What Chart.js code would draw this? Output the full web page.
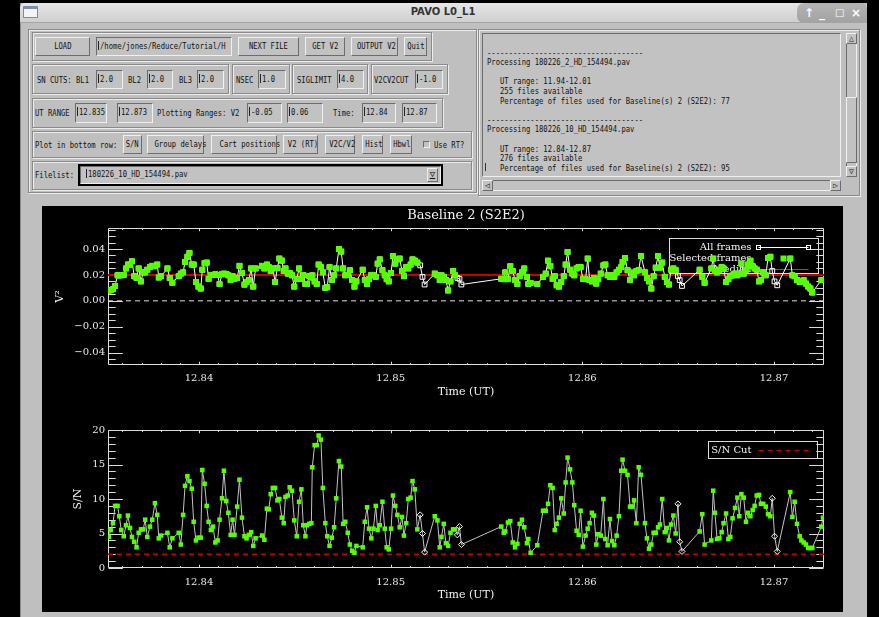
<!DOCTYPE html>
<html>
<head>
<meta charset="utf-8">
<title>PAVO L0_L1</title>
<script src="https://cdn.jsdelivr.net/npm/chart.js@4.4.1/dist/chart.umd.min.js"></script>
<style>
body{margin:0;background:#000;width:879px;height:617px;overflow:hidden;position:relative;
  font-family:"DejaVu Sans Mono",monospace;font-size:9px;color:#111}
.a{position:absolute;box-sizing:border-box}
.t{display:inline-block;transform:scaleX(.8);transform-origin:0 50%;white-space:pre}
.btn .t{transform-origin:50% 50%}
.win{left:20px;top:3px;width:847px;height:614px;background:#bfbfbf;border-left:1px solid #8c8c8c}
.bar{left:20px;top:3px;width:847px;height:20px;background:linear-gradient(#e6e6e6,#cfcfcf);border-radius:5px 5px 0 0;border-bottom:1px solid #a6a6a6}
.ctl{left:797px;top:3px;width:70px;height:20px;background:linear-gradient(#b4b4b4,#a2a2a2);border-radius:7px 5px 0 7px;color:#fff;font:bold 12px "DejaVu Sans",sans-serif}
.ctl span{position:absolute;top:3px}
.grp{border:1px solid #8a8a8a;box-shadow:inset 1px 1px 0 #ececec,1px 1px 0 #ececec}
.btn{background:#c2c2c2;border:1px solid;border-color:#f0f0f0 #6c6c6c #6c6c6c #f0f0f0;text-align:center;line-height:17px;white-space:nowrap}
.fld{background:#c2c2c2;border:1px solid;border-color:#6c6c6c #f0f0f0 #f0f0f0 #6c6c6c;padding-left:1px;line-height:17px;white-space:nowrap;overflow:hidden}
.lbl{white-space:nowrap;line-height:12px}
.cur{display:inline-block;width:2px;height:9px;border-left:1px solid #222;vertical-align:-1px;box-sizing:border-box}
.log{line-height:9.6px;white-space:pre;padding:5px 0 0 4px;overflow:hidden}
.plot{left:42px;top:206px;width:801px;height:406px;background:#000}
canvas{position:absolute;left:42px}
</style>
</head>
<body>
<div class="a win"></div>
<div class="a bar"></div>
<div class="a" style="left:23px;top:6px;width:15px;height:12px;background:#f4f4f4;border:1px solid #8a8a8a;border-top:3px solid #7d8fa8"></div>
<div class="a" style="left:343px;top:6px;width:200px;text-align:center;font:bold 10px 'DejaVu Sans',sans-serif;color:#333">PAVO L0_L1</div>
<div class="a ctl"><span style="left:7px">&#8593;</span><span style="left:22px">_</span><span style="left:38px;font-size:10px;top:4px">&#9633;</span><span style="left:54px">&#215;</span></div>

<!-- left control panel -->
<div class="a grp" style="left:28px;top:29px;width:449px;height:164px"></div>
<div class="a grp" style="left:32px;top:32px;width:400px;height:29px"></div>
<div class="a btn" style="left:35px;top:37px;width:55px;height:19px"><span class="t">LOAD</span></div>
<div class="a fld" style="left:96px;top:37px;width:136px;height:19px"><span class="cur"></span><span class="t">/home/jones/Reduce/Tutorial/H</span></div>
<div class="a btn" style="left:238px;top:37px;width:61px;height:19px"><span class="t">NEXT FILE</span></div>
<div class="a btn" style="left:305px;top:37px;width:40px;height:19px"><span class="t">GET V2</span></div>
<div class="a btn" style="left:351px;top:37px;width:47px;height:19px"><span class="t">OUTPUT V2</span></div>
<div class="a btn" style="left:404px;top:37px;width:23px;height:19px"><span class="t">Quit</span></div>

<div class="a grp" style="left:32px;top:64px;width:197px;height:30px"></div>
<div class="a grp" style="left:232px;top:64px;width:58px;height:30px"></div>
<div class="a grp" style="left:292px;top:64px;width:76px;height:30px"></div>
<div class="a grp" style="left:371px;top:64px;width:77px;height:30px"></div>
<div class="a lbl" style="left:37px;top:74px"><span class="t">SN CUTS: BL1</span></div>
<div class="a fld" style="left:96px;top:70px;width:27px;height:19px"><span class="cur"></span><span class="t">2.0</span></div>
<div class="a lbl" style="left:128px;top:74px"><span class="t">BL2</span></div>
<div class="a fld" style="left:147px;top:70px;width:26px;height:19px"><span class="cur"></span><span class="t">2.0</span></div>
<div class="a lbl" style="left:179px;top:74px"><span class="t">BL3</span></div>
<div class="a fld" style="left:197px;top:70px;width:27px;height:19px"><span class="cur"></span><span class="t">2.0</span></div>
<div class="a lbl" style="left:236px;top:74px"><span class="t">NSEC</span></div>
<div class="a fld" style="left:258px;top:70px;width:28px;height:19px"><span class="cur"></span><span class="t">1.0</span></div>
<div class="a lbl" style="left:297px;top:74px"><span class="t">SIGLIMIT</span></div>
<div class="a fld" style="left:337px;top:70px;width:27px;height:19px"><span class="cur"></span><span class="t">4.0</span></div>
<div class="a lbl" style="left:374px;top:74px"><span class="t">V2CV2CUT</span></div>
<div class="a fld" style="left:415px;top:70px;width:28px;height:19px"><span class="cur"></span><span class="t">-1.0</span></div>

<div class="a grp" style="left:32px;top:98px;width:411px;height:30px"></div>
<div class="a lbl" style="left:35px;top:107px"><span class="t">UT RANGE</span></div>
<div class="a fld" style="left:75px;top:103px;width:32px;height:20px"><span class="cur"></span><span class="t">12.835</span></div>
<div class="a fld" style="left:117px;top:103px;width:36px;height:20px"><span class="cur"></span><span class="t">12.873</span></div>
<div class="a lbl" style="left:157px;top:107px"><span class="t">Plotting Ranges: V2</span></div>
<div class="a fld" style="left:247px;top:103px;width:35px;height:20px"><span class="cur"></span><span class="t">-0.05</span></div>
<div class="a fld" style="left:287px;top:103px;width:36px;height:20px"><span class="cur"></span><span class="t">0.06</span></div>
<div class="a lbl" style="left:333px;top:107px"><span class="t">Time:</span></div>
<div class="a fld" style="left:362px;top:103px;width:34px;height:20px"><span class="cur"></span><span class="t">12.84</span></div>
<div class="a fld" style="left:402px;top:103px;width:35px;height:20px"><span class="cur"></span><span class="t">12.87</span></div>

<div class="a grp" style="left:32px;top:131px;width:440px;height:27px"></div>
<div class="a lbl" style="left:35px;top:139px"><span class="t">Plot in bottom row:</span></div>
<div class="a btn" style="left:123px;top:135px;width:19px;height:19px"><span class="t">S/N</span></div>
<div class="a btn" style="left:147px;top:135px;width:57px;height:19px"><span class="t">Group delays</span></div>
<div class="a btn" style="left:211px;top:135px;width:66px;height:19px"><span class="t">Cart positions</span></div>
<div class="a btn" style="left:283px;top:135px;width:35px;height:19px"><span class="t">V2 (RT)</span></div>
<div class="a btn" style="left:325px;top:135px;width:30px;height:19px"><span class="t">V2C/V2</span></div>
<div class="a btn" style="left:362px;top:135px;width:21px;height:19px"><span class="t">Hist</span></div>
<div class="a btn" style="left:390px;top:135px;width:22px;height:19px"><span class="t">Hbwl</span></div>
<div class="a fld" style="left:423px;top:141px;width:7px;height:7px;padding:0"></div>
<div class="a lbl" style="left:434px;top:139px"><span class="t">Use RT?</span></div>

<div class="a grp" style="left:32px;top:161px;width:440px;height:29px"></div>
<div class="a lbl" style="left:35px;top:169px"><span class="t">Filelist:</span></div>
<div class="a" style="left:78px;top:164px;width:365px;height:22px;border:2px solid #000"></div>
<div class="a fld" style="left:80px;top:166px;width:361px;height:18px;line-height:15px;padding-left:5px"><span class="cur"></span><span class="t">180226_10_HD_154494.pav</span></div>
<div class="a btn" style="left:427px;top:168px;width:11px;height:14px;line-height:11px;font-size:9px;text-decoration:underline">&#9661;</div>

<!-- right log panel -->
<div class="a grp" style="left:478px;top:29px;width:382px;height:167px"></div>
<div class="a fld log" style="left:482px;top:33px;width:359px;height:144px"><span class="t" style="transform-origin:0 0">
------------------------------------
Processing 180226_2_HD_154494.pav

   UT range: 11.94-12.01
   255 files available
   Percentage of files used for Baseline(s) 2 (S2E2): 77

------------------------------------
Processing 180226_10_HD_154494.pav

   UT range: 12.84-12.87
   276 files available
   Percentage of files used for Baseline(s) 2 (S2E2): 95</span></div>
<div class="a" style="left:485px;top:163px;width:3px;height:8px;border-left:1px solid #333"></div>
<div class="a fld" style="left:846px;top:33px;width:11px;height:144px;padding:0"></div>
<div class="a btn" style="left:846px;top:33px;width:11px;height:11px;line-height:9px;font-size:8px">&#9651;</div>
<div class="a btn" style="left:846px;top:97px;width:11px;height:66px"></div>
<div class="a btn" style="left:846px;top:166px;width:11px;height:11px;line-height:9px;font-size:8px">&#9661;</div>
<div class="a fld" style="left:482px;top:180px;width:359px;height:11px;padding:0"></div>
<div class="a btn" style="left:482px;top:180px;width:11px;height:11px;line-height:9px;font-size:8px">&#9665;</div>
<div class="a btn" style="left:830px;top:180px;width:11px;height:11px;line-height:9px;font-size:8px">&#9655;</div>

<!-- plot window -->
<div class="a plot"></div>
<canvas id="v2Chart" width="801" height="204" style="top:206px"></canvas>
<canvas id="snChart" width="801" height="202" style="top:410px"></canvas>

<script>
// UT time of every frame (hours)
const utTime = [
  12.83530,12.83539,12.83551,12.83562,12.83575,12.83584,12.83594,12.83607,12.83619,12.83629,
  12.83640,12.83650,12.83662,12.83674,12.83685,12.83697,12.83709,12.83719,12.83730,12.83744,
  12.83756,12.83770,12.83782,12.83790,12.83802,12.83835,12.83847,12.83861,12.83894,12.83905,
  12.83917,12.83927,12.83939,12.83950,12.83962,12.83972,12.83984,12.83997,12.84009,12.84017,
  12.84029,12.84040,12.84050,12.84062,12.84073,12.84085,12.84097,12.84107,12.84120,12.84130,
  12.84142,12.84153,12.84165,12.84175,12.84185,12.84199,12.84211,12.84224,12.84237,12.84248,
  12.84260,12.84272,12.84283,12.84295,12.84329,12.84341,12.84354,12.84364,12.84374,12.84385,
  12.84397,12.84409,12.84419,12.84432,12.84442,12.84451,12.84463,12.84473,12.84485,12.84497,
  12.84510,12.84522,12.84534,12.84544,12.84555,12.84563,12.84575,12.84586,12.84591,12.84603,
  12.84614,12.84624,12.84636,12.84646,12.84659,12.84669,12.84681,12.84693,12.84705,12.84716,
  12.84730,12.84742,12.84752,12.84763,12.84776,12.84787,12.84799,12.84811,12.84821,12.84854,
  12.84865,12.84877,12.84887,12.84899,12.84910,12.84922,12.84932,12.84943,12.84957,12.84969,
  12.84979,12.84990,12.85002,12.85012,12.85024,12.85035,12.85047,12.85059,12.85069,12.85081,
  12.85092,12.85104,12.85114,12.85126,12.85139,12.85154,12.85166,12.85177,12.85230,12.85244,
  12.85256,12.85265,12.85277,12.85288,12.85300,12.85312,12.85326,12.85336,12.85348,12.85359,
  12.85369,
  12.85577,12.85590,12.85598,12.85612,12.85624,12.85637,12.85649,12.85661,12.85673,12.85685,
  12.85697,12.85711,12.85718,12.85730,12.85765,12.85795,12.85809,12.85821,12.85833,12.85845,
  12.85856,12.85866,12.85878,12.85890,12.85903,12.85913,12.85923,12.85936,12.85948,12.85958,
  12.85970,12.85981,12.85991,12.86003,12.86017,12.86028,12.86038,12.86050,12.86061,12.86073,
  12.86083,12.86096,12.86110,12.86120,12.86132,12.86144,12.86155,12.86167,12.86179,12.86191,
  12.86203,12.86210,12.86223,12.86236,12.86249,12.86259,12.86270,12.86282,12.86294,12.86306,
  12.86327,12.86337,12.86348,12.86360,12.86372,12.86383,12.86395,12.86405,12.86417,12.86430,
  12.86442,12.86452,12.86463,12.86475,12.86487,12.86499,12.86508,12.86520,12.86612,12.86626,
  12.86638,12.86673,12.86683,12.86692,12.86703,12.86715,12.86727,12.86737,12.86750,12.86762,
  12.86772,12.86784,12.86797,12.86809,12.86819,12.86830,12.86842,12.86854,12.86864,12.86877,
  12.86889,12.86899,12.86910,12.86922,12.86932,12.86944,12.86957,12.86969,12.86981,12.86991,
  12.87003,12.87017,12.87085,12.87096,12.87108,12.87120,12.87134,12.87143,12.87155,12.87167,
  12.87179,12.87190,12.87200,12.87247,12.87256
];

// squared visibility per frame
const v2 = [
  0.008,0.0082,0.009,0.0115,0.0197,0.0197,0.0197,0.020,0.025,0.028,
  0.028,0.0305,0.019,0.0177,0.025,0.015,0.022,0.022,0.024,0.026,
  0.027,0.0267,0.028,0.018,0.019,0.025,0.0177,0.014,0.019,0.021,
  0.022,0.030,0.034,0.037,0.028,0.028,0.0146,0.011,0.0095,0.024,
  0.029,0.0295,0.017,0.020,0.020,0.0205,0.020,0.013,0.0205,0.021,
  0.0207,0.0197,0.016,0.019,0.017,0.0177,0.027,0.0215,0.0125,0.0146,
  0.016,0.025,0.011,0.025,0.027,0.025,0.028,0.026,0.023,0.025,
  0.0146,0.0254,0.0326,0.031,0.023,0.025,0.021,0.0215,0.0197,0.011,
  0.0167,0.025,0.017,0.020,0.013,0.013,0.019,0.018,0.0197,0.015,
  0.013,0.028,0.026,0.022,0.010,0.0105,0.026,0.016,0.0197,0.025,
  0.040,0.038,0.025,0.0197,0.020,0.0236,0.016,0.011,0.015,0.024,
  0.016,0.013,0.0167,0.020,0.0197,0.0185,0.0287,0.032,0.0236,0.0197,
  0.0167,0.015,0.0215,0.0346,0.0287,0.032,0.0326,0.023,0.019,0.026,
  0.025,0.028,0.032,0.031,0.0295,0.0274,0.0185,0.0126,0.021,0.0197,
  0.016,0.0197,0.0185,0.016,0.008,0.015,0.023,0.0197,0.0177,0.017,
  0.0126,
  0.017,0.0167,0.022,0.0167,0.0267,0.023,0.016,0.013,0.019,0.022,
  0.025,0.0185,0.013,0.0138,0.013,0.0185,0.021,0.031,0.0267,0.017,
  0.019,0.012,0.011,0.0146,0.019,0.028,0.0377,0.024,0.021,0.0197,
  0.025,0.026,0.026,0.017,0.0167,0.0326,0.016,0.015,0.0177,0.0133,
  0.0167,0.021,0.0274,0.028,0.0197,0.0185,0.0197,0.0185,0.022,0.024,
  0.026,0.030,0.033,0.0236,0.016,0.0218,0.0197,0.023,0.0236,0.0346,
  0.022,0.0177,0.015,0.0095,0.019,0.0256,0.0346,0.0256,0.0295,0.0185,
  0.0146,0.0126,0.024,0.025,0.0236,0.019,0.016,0.0115,0.024,0.0185,
  0.014,0.025,0.0326,0.023,0.022,0.024,0.026,0.025,0.0146,0.0167,
  0.019,0.0197,0.021,0.0197,0.021,0.0287,0.021,0.024,0.028,0.031,
  0.0267,0.025,0.024,0.015,0.016,0.022,0.0197,0.033,0.034,0.023,
  0.015,0.012,0.0326,0.0197,0.019,0.016,0.0146,0.015,0.016,0.0133,
  0.011,0.0095,0.0064,0.016,0.016
];

// signal to noise per frame
const snr = [
  4.5,5.5,6.5,9.0,9.0,7.5,5.5,4.6,6.2,7.6,
  5.8,4.5,3.8,3.0,5.1,5.6,5.6,7.0,4.5,6.0,
  7.0,9.4,7.7,4.3,4.7,5.1,3.0,4.3,5.1,3.4,
  7.7,11.9,13.3,12.6,11.5,6.7,4.0,4.4,4.4,14.2,
  12.2,9.0,6.7,5.5,6.0,3.7,4.0,7.0,10.1,14.1,
  9.7,8.0,4.8,7.0,4.8,8.9,12.8,7.3,4.6,4.3,
  4.8,5.2,3.2,4.3,4.7,4.1,8.6,8.5,10.7,11.6,
  11.6,9.8,10.0,7.3,6.5,10.3,10.5,11.7,11.2,6.9,
  4.6,9.6,11.4,6.2,4.6,6.2,6.4,6.5,14.6,17.8,
  17.8,19.2,18.6,11.6,6.5,4.6,3.2,4.4,5.9,10.1,
  15.5,14.7,6.4,6.7,5.1,3.4,2.5,2.2,3.2,3.0,
  6.7,8.8,5.7,4.3,5.7,9.0,5.5,6.2,9.6,5.7,
  3.0,2.7,5.7,10.5,9.0,7.7,5.9,7.4,4.7,6.5,
  10.0,10.2,12.6,11.4,5.6,7.7,5.0,2.3,7.5,6.9,
  3.0,4.5,6.4,3.6,3.2,5.1,5.6,5.6,4.8,6.0,
  3.4,
  6.0,5.1,5.3,6.6,6.8,3.7,3.0,3.5,6.4,7.0,
  5.9,3.6,4.2,2.2,3.3,8.3,8.3,9.3,12.0,11.6,
  5.5,6.4,7.3,10.1,7.9,12.4,16.0,14.3,12.4,9.1,
  5.4,4.8,8.3,3.1,4.7,5.7,6.5,8.0,7.6,3.4,
  4.9,4.7,10.0,4.2,3.3,7.1,3.9,3.3,4.7,7.5,
  14.1,15.7,14.1,13.5,8.9,8.9,9.8,6.5,14.6,13.5,
  6.5,4.3,2.8,3.4,5.1,5.1,5.9,6.3,10.0,5.2,
  5.8,4.0,6.3,7.6,5.0,9.3,3.8,2.4,5.3,7.8,
  3.4,4.0,11.2,8.0,4.2,4.3,5.2,6.5,7.9,4.2,
  4.5,7.2,8.7,10.2,7.5,10.7,10.2,6.7,8.0,7.5,
  8.4,9.0,10.5,10.6,9.3,9.3,8.9,7.8,7.5,10.1,
  4.6,2.4,11.0,7.4,9.6,6.4,4.6,4.0,3.7,3.4,
  2.9,2.9,2.9,6.0,7.3
];

// frames that were not selected
const rejectedTimes = [12.85154, 12.85166, 12.85177, 12.85348, 12.85359, 12.85369,
                       12.86499, 12.86508, 12.86520, 12.86991, 12.87003, 12.87017];

const medianV2 = 0.02;
const snCut = 2.0;
const utRange = [12.83525, 12.87261];
const v2Range = [-0.0495, 0.0562];
const snRange = [0, 20];

const timeTicks = [12.84, 12.85, 12.86, 12.87];
const v2Ticks = [-0.04, -0.02, 0.00, 0.02, 0.04];
const snTicks = [0, 5, 10, 15, 20];

const GREEN = "#55ff00";
const FRAME = "#dcdcdc";
const SERIF = '"DejaVu Serif", serif';

const rejected = utTime.map(t => rejectedTimes.includes(t));
const pts = vals => utTime.map((t, i) => ({ x: t, y: vals[i] }));
const selectedPts = vals => pts(vals).filter((p, i) => !rejected[i]);
const flat = (value) => [{ x: utRange[0], y: value }, { x: utRange[1], y: value }];

// IDL style box: frame on all four sides, inward ticks, minor ticks too
const idlBox = {
    id: "idlBox",
    beforeDatasetsDraw(chart, args, o) {
        const { ctx, chartArea: a } = chart;
        const xs = chart.scales.x, ys = chart.scales.y;
        const w = a.right - a.left, h = a.bottom - a.top;
        const L = Math.round(a.left) + 0.5, R = Math.round(a.right) - 0.5;
        const T = Math.round(a.top) + 0.5, B = Math.round(a.bottom) - 0.5;
        ctx.save();
        ctx.strokeStyle = FRAME;
        ctx.lineWidth = 1;
        ctx.beginPath();
        ctx.rect(L, T, R - L, B - T);
        for (let k = Math.ceil(xs.min / o.xMinor - 1e-6); k * o.xMinor <= xs.max + 1e-9; k++) {
            const px = Math.round(xs.getPixelForValue(k * o.xMinor)) + 0.5;
            const len = (k % o.xEvery === 0 ? 0.02 : 0.01) * h;
            ctx.moveTo(px, B); ctx.lineTo(px, B - len);
            ctx.moveTo(px, T); ctx.lineTo(px, T + len);
        }
        for (let k = Math.ceil(ys.min / o.yMinor - 1e-6); k * o.yMinor <= ys.max + 1e-9; k++) {
            const py = Math.round(ys.getPixelForValue(k * o.yMinor)) + 0.5;
            const len = (k % o.yEvery === 0 ? 0.02 : 0.01) * w;
            ctx.moveTo(L, py); ctx.lineTo(L + len, py);
            ctx.moveTo(R, py); ctx.lineTo(R - len, py);
        }
        ctx.stroke();

        // titles
        ctx.fillStyle = "#f2f2f2";
        ctx.textAlign = "center";
        ctx.textBaseline = "middle";
        if (o.title) {
            ctx.font = "13px " + SERIF;
            ctx.fillText(o.title, (a.left + a.right) / 2, o.titleY);
        }
        ctx.font = "11px " + SERIF;
        ctx.fillText(o.xTitle, (a.left + a.right) / 2, o.xTitleY);
        ctx.save();
        ctx.translate(o.yTitleX, (a.top + a.bottom) / 2);
        ctx.rotate(-Math.PI / 2);
        ctx.fillText(o.yTitle, 0, 0);
        ctx.restore();

        // legend box
        const lg = o.legend;
        const left = Math.round(a.right - lg.right - lg.width) + 0.5;
        const top = Math.round(a.top + lg.top) + 0.5;
        ctx.strokeStyle = FRAME;
        ctx.strokeRect(left, top, lg.width, lg.height);
        ctx.font = "10px " + SERIF;
        ctx.textAlign = "right";
        lg.items.forEach((it, i) => {
            const y = Math.round(top + lg.rowTop + i * lg.rowGap) + 0.5;
            ctx.fillStyle = "#f2f2f2";
            ctx.fillText(it.text, left + lg.textRight, y);
            const x0 = left + lg.symLeft, x1 = x0 + lg.symWidth;
            ctx.beginPath();
            if (it.kind === "squares") {
                ctx.strokeStyle = "#ffffff";
                ctx.moveTo(x0, y); ctx.lineTo(x1, y);
                ctx.strokeRect(x0 - 2, y - 2, 4, 4);
                ctx.strokeRect(x1 - 2, y - 2, 4, 4);
                ctx.stroke();
            } else if (it.kind === "fill") {
                ctx.fillStyle = it.color;
                ctx.fillRect((x0 + x1) / 2 - 3, y - 3, 6, 6);
            } else {
                ctx.strokeStyle = it.color;
                ctx.setLineDash(it.dash || []);
                ctx.moveTo(x0, y); ctx.lineTo(x1, y);
                ctx.stroke();
                ctx.setLineDash([]);
            }
        });
        ctx.restore();
    }
};

function axes(yRange, yTicks, yLabel, xPad) {
    return {
        x: {
            type: "linear",
            min: utRange[0],
            max: utRange[1],
            grid: { display: false, drawTicks: false },
            border: { display: false },
            afterBuildTicks: s => { s.ticks = timeTicks.map(v => ({ value: v })); },
            afterFit: s => { s.height = xPad.height; },
            ticks: {
                color: "#e8e8e8",
                font: { family: SERIF, size: 10 },
                padding: xPad.pad,
                maxRotation: 0,
                autoSkip: false,
                callback: v => Number(v).toFixed(2)
            }
        },
        y: {
            type: "linear",
            min: yRange[0],
            max: yRange[1],
            grid: { display: false, drawTicks: false },
            border: { display: false },
            afterBuildTicks: s => { s.ticks = yTicks.map(v => ({ value: v })); },
            afterFit: s => { s.width = 66; },
            ticks: {
                color: "#e8e8e8",
                font: { family: SERIF, size: 10 },
                padding: 3,
                autoSkip: false,
                callback: yLabel
            }
        }
    };
}

Chart.defaults.animation = false;

new Chart(document.getElementById("v2Chart"), {
    type: "scatter",
    data: {
        datasets: [{
            label: "Selected frames",
            data: selectedPts(v2),
            pointStyle: "rect",
            pointRadius: 4.2,
            pointBackgroundColor: GREEN,
            pointBorderWidth: 0,
            order: 0
        }, {
            label: "All frames",
            data: pts(v2),
            showLine: true,
            borderColor: "#ffffff",
            borderWidth: 1,
            pointStyle: "rect",
            pointRadius: 3.4,
            pointBackgroundColor: "rgba(0,0,0,0)",
            pointBorderColor: "#ffffff",
            pointBorderWidth: 1,
            order: 1
        }, {
            label: "Median",
            data: flat(medianV2),
            showLine: true,
            borderColor: "#c80000",
            borderWidth: 2,
            pointRadius: 0,
            order: 2
        }, {
            label: "zero",
            data: flat(0),
            showLine: true,
            borderColor: "#e0e0e0",
            borderWidth: 1,
            borderDash: [5, 4],
            pointRadius: 0,
            order: 3
        }]
    },
    options: {
        responsive: false,
        devicePixelRatio: 1,
        layout: { padding: { top: 22, right: 19, left: 0, bottom: 0 } },
        scales: axes(v2Range, v2Ticks,
            v => (v < 0 ? "\u2212" : "") + Math.abs(v).toFixed(2),
            { height: 45, pad: 7 }),
        plugins: {
            legend: { display: false },
            tooltip: { enabled: false },
            idlBox: {
                xMinor: 0.001, xEvery: 10,
                yMinor: 0.005, yEvery: 4,
                title: "Baseline 2 (S2E2)", titleY: 10,
                xTitle: "Time (UT)", xTitleY: 186,
                yTitle: "V\u00b2", yTitleX: 18,
                legend: {
                    right: 6, top: 10, width: 149, height: 35,
                    rowTop: 8, rowGap: 11, textRight: 82, symLeft: 89, symWidth: 50,
                    items: [
                        { text: "All frames", kind: "squares" },
                        { text: "Selected frames", kind: "fill", color: GREEN },
                        { text: "Median", kind: "line", color: "#ff2020" }
                    ]
                }
            }
        }
    },
    plugins: [idlBox]
});

new Chart(document.getElementById("snChart"), {
    type: "scatter",
    data: {
        datasets: [{
            label: "Selected frames",
            data: selectedPts(snr),
            pointStyle: "rect",
            pointRadius: 3.2,
            pointBackgroundColor: GREEN,
            pointBorderWidth: 0,
            order: 0
        }, {
            label: "All frames",
            data: pts(snr),
            showLine: true,
            borderColor: "#c4c4c4",
            borderWidth: 1,
            pointStyle: "rectRot",
            pointRadius: rejected.map(r => (r ? 3 : 0)),
            pointBackgroundColor: "rgba(0,0,0,0)",
            pointBorderColor: "#ffffff",
            pointBorderWidth: 1,
            order: 1
        }, {
            label: "S/N Cut",
            data: flat(snCut),
            showLine: true,
            borderColor: "#c80000",
            borderWidth: 1.5,
            borderDash: [5, 4],
            pointRadius: 0,
            order: 2
        }]
    },
    options: {
        responsive: false,
        devicePixelRatio: 1,
        layout: { padding: { top: 20, right: 19, left: 0, bottom: 0 } },
        scales: axes(snRange, snTicks, v => String(v), { height: 44, pad: 8 }),
        plugins: {
            legend: { display: false },
            tooltip: { enabled: false },
            idlBox: {
                xMinor: 0.001, xEvery: 10,
                yMinor: 1, yEvery: 5,
                xTitle: "Time (UT)", xTitleY: 185,
                yTitle: "S/N", yTitleX: 36,
                legend: {
                    right: 7, top: 11, width: 109, height: 17,
                    rowTop: 8.5, rowGap: 11, textRight: 43, symLeft: 50, symWidth: 52,
                    items: [
                        { text: "S/N Cut", kind: "line", color: "#d00000", dash: [5, 4] }
                    ]
                }
            }
        }
    },
    plugins: [idlBox]
});
</script>
</body>
</html>
